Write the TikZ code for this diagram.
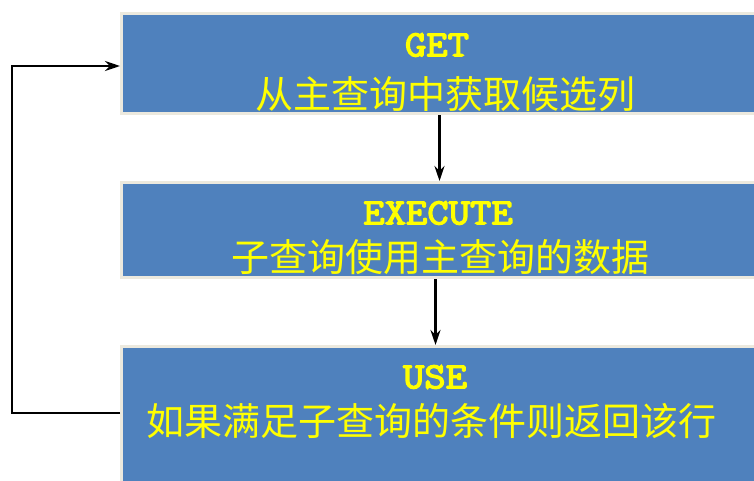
\documentclass[tikz,border=0pt]{standalone}
\usepackage{fontspec}
\newfontfamily\cjk{Noto Sans CJK SC}
\newfontfamily\enmono[FakeBold=3.5]{Latin Modern Mono}
\usetikzlibrary{arrows.meta}
\definecolor{boxblue}{RGB}{79,129,189}
\definecolor{boxedge}{RGB}{236,233,222}
\definecolor{txtyellow}{RGB}{255,255,0}
\newcommand{\entxt}[1]{\scalebox{1.12}[1]{#1}}
\tikzset{
  box/.style={draw=boxedge, line width=3pt, fill=boxblue, minimum width=640pt, inner sep=0pt, anchor=north west},
  entext/.style={text=txtyellow, inner sep=0pt, font=\fontsize{37}{37}\selectfont\enmono},
  zhtext/.style={text=txtyellow, inner sep=0pt, font=\fontsize{38}{38}\selectfont\cjk},
  arr/.style={draw=black, line width=2.8pt, -{Stealth[length=15pt,width=10pt,inset=5pt]}}
}
\begin{document}
\begin{tikzpicture}[x=1pt,y=-1pt]
\useasboundingbox (0,0) rectangle (754,480);
\node[box, minimum height=100pt] (b1) at (120,12) {};
\node[box, minimum height=95pt] (b2) at (120,181) {};
\node[box, minimum height=160pt] (b3) at (120,345) {};
\node[entext] (t1) at (437,45) {\entxt{GET}};
\node[zhtext] (z1) at (445,94) {从主查询中获取候选列};
\node[entext] (t2) at (438,213) {\entxt{EXECUTE}};
\node[zhtext] (z2) at (440,257) {子查询使用主查询的数据};
\node[entext] (t3) at (435,377) {\entxt{USE}};
\node[zhtext] (z3) at (431,421) {如果满足子查询的条件则返回该行};
\draw[arr] ([xshift=-2pt]b1.south) -- ([xshift=-2pt]b2.north);
\draw[arr] ([xshift=-6pt]b2.south) -- ([xshift=-6pt]b3.north);
\coordinate (ya) at (0,413);
\coordinate (yb) at (0,66);
\coordinate (lx) at (12,0);
\draw[arr] (b3.west |- ya) -- (lx |- ya) -- (lx |- yb) -- (b1.west |- yb);
\end{tikzpicture}
\end{document}
